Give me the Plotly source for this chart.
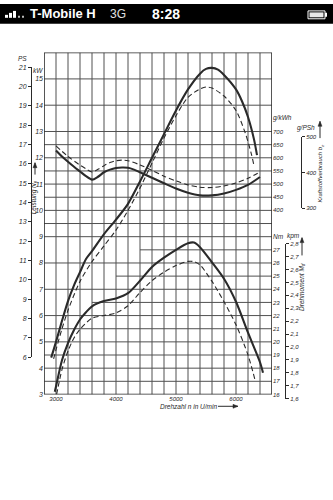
import plotly.graph_objects as go

W, H = 333, 500

# ---------------- data ----------------
# engine speed grid and tick labels
rpm_ticks = [3000, 4000, 5000, 6000]
rpm_grid = list(range(2800, 6601, 200))

# power, kW (two curves)
rpm_power_a = [2920, 3000, 3100, 3200, 3300, 3400, 3500, 3600, 3800, 4000, 4200, 4400, 4600,
               4800, 5000, 5200, 5400, 5500, 5600, 5700, 5800, 6000, 6100, 6200, 6300, 6350]
power_kw_a = [4.4, 5.0, 5.8, 6.55, 7.15, 7.65, 8.15, 8.45, 9.1, 9.65, 10.25, 11.1, 12.0,
              12.9, 13.8, 14.6, 15.2, 15.38, 15.42, 15.35, 15.15, 14.6, 14.15, 13.55, 12.7, 12.1]
rpm_power_b = [2960, 3000, 3100, 3200, 3400, 3600, 3800, 4000, 4200, 4400, 4600, 4800, 5000,
               5200, 5400, 5500, 5600, 5800, 6000, 6150, 6250, 6300]
power_kw_b = [4.35, 4.7, 5.5, 6.2, 7.3, 8.05, 8.65, 9.25, 10.0, 10.85, 11.8, 12.75, 13.6,
              14.3, 14.62, 14.69, 14.65, 14.35, 13.8, 12.97, 12.2, 11.7]

# specific fuel consumption, g/kWh
rpm_fuel_a = [3000, 3100, 3200, 3300, 3400, 3500, 3600, 3700, 3800, 3900, 4000, 4100, 4200,
              4300, 4400, 4600, 4800, 5000, 5200, 5400, 5600, 5800, 6000, 6200, 6400]
fuel_gkwh_a = [628, 605, 585, 566, 548, 530, 517, 528, 545, 555, 561, 563, 562,
               555, 545, 524, 503, 483, 467, 457, 457, 464, 478, 497, 527]
rpm_fuel_b = [3000, 3200, 3400, 3500, 3600, 3700, 3800, 3900, 4000, 4100, 4200, 4400, 4600,
              4800, 5000, 5200, 5400, 5600, 5800, 6000, 6200, 6400]
fuel_gkwh_b = [645, 605, 572, 558, 546, 556, 570, 582, 589, 591, 589, 573, 552,
               530, 512, 497, 488, 487, 493, 504, 522, 546]

# torque, Nm
rpm_torque_a = [2980, 3000, 3100, 3200, 3300, 3400, 3500, 3600, 3800, 4000, 4200, 4400, 4600,
                4800, 5000, 5200, 5300, 5400, 5600, 5800, 6000, 6200, 6400, 6450]
torque_nm_a = [16.2, 16.6, 18.6, 19.9, 20.9, 21.7, 22.25, 22.7, 23.1, 23.3, 23.7, 24.65, 25.7,
               26.4, 27.0, 27.5, 27.55, 27.2, 26.05, 24.8, 23.05, 20.7, 18.45, 17.65]
rpm_torque_b = [3010, 3100, 3200, 3300, 3400, 3600, 3800, 4000, 4200, 4400, 4600, 4800, 5000,
                5200, 5300, 5400, 5600, 5800, 6000, 6200, 6320]
torque_nm_b = [16.0, 17.9, 19.3, 20.3, 20.95, 21.8, 22.0, 22.2, 22.75, 23.75, 24.65, 25.3, 25.8,
               26.12, 26.1, 25.85, 24.6, 23.05, 21.3, 19.0, 17.05]

# scale tick labels
kw_ticks = list(range(3, 16))
ps_ticks = list(range(6, 22))
gkwh_ticks = [400, 450, 500, 550, 600, 650, 700]
gpsh_ticks = [300, 400, 500]
nm_ticks = list(range(16, 28))
kpm_ticks = [1.6, 1.7, 1.8, 1.9, 2.0, 2.1, 2.2, 2.3, 2.4, 2.5, 2.6, 2.7, 2.8]
kpm_text = [f"{v:.1f}".replace(".", ",") for v in kpm_ticks]

# horizontal rulings on the kW scale; some lines start further right
hgrid_kw = [3.5, 4, 4.5, 5, 5.5, 6, 6.5, 7, 7.5, 8, 8.5, 9, 9.5, 10, 10.5, 11, 11.5,
            12, 12.5, 13, 14, 15]
hgrid_start = {6.5: 3600, 7.5: 4000, 8.5: 4400}

# ---------------- geometry ----------------
KW_RANGE = [3, 16]
RPM_RANGE = [2800, 6600]
X_DOM = [44 / W, 272 / W]
Y_DOM = [1 - 396 / H, 1 - 49.3 / H]

PS_KW = 0.7355          # 1 PS in kW
KPM_NM = 9.80665        # 1 kpm in Nm


def kw_paper(kw):
    return Y_DOM[0] + (kw - KW_RANGE[0]) / (KW_RANGE[1] - KW_RANGE[0]) * (Y_DOM[1] - Y_DOM[0])


def gkwh_on_kw(g):
    return 10 + (g - 400) / 100


def nm_on_kw(nm):
    return 3 + (nm - 16) * 0.5


def kw_to_gkwh(kw):
    return 400 + (kw - 10) * 100


def kw_to_nm(kw):
    return 16 + (kw - 3) * 2


def px(x, y):
    return x / W, 1 - y / H


INK = "#2a2a2a"
GRID = "#505050"
FONT = "Liberation Sans"
tick_font = dict(family=FONT, size=7, color=INK, style="italic")
small_tick_font = dict(tick_font, size=6)
label_font = dict(family=FONT, size=6.5, color=INK, style="italic")

fig = go.Figure()

curve_solid = dict(color=INK, width=2.1, shape="spline", smoothing=0.8)
curve_dash = dict(color=INK, width=1.1, dash="5px,3px", shape="spline", smoothing=0.8)

fig.add_trace(go.Scatter(x=rpm_power_a, y=power_kw_a, mode="lines", line=curve_solid,
                         yaxis="y", showlegend=False, hoverinfo="skip"))
fig.add_trace(go.Scatter(x=rpm_power_b, y=power_kw_b, mode="lines", line=curve_dash,
                         yaxis="y", showlegend=False, hoverinfo="skip"))
fig.add_trace(go.Scatter(x=rpm_fuel_a, y=fuel_gkwh_a, mode="lines", line=curve_solid,
                         yaxis="y2", showlegend=False, hoverinfo="skip"))
fig.add_trace(go.Scatter(x=rpm_fuel_b, y=fuel_gkwh_b, mode="lines", line=curve_dash,
                         yaxis="y2", showlegend=False, hoverinfo="skip"))
fig.add_trace(go.Scatter(x=rpm_torque_a, y=torque_nm_a, mode="lines", line=curve_solid,
                         yaxis="y3", showlegend=False, hoverinfo="skip"))
fig.add_trace(go.Scatter(x=rpm_torque_b, y=torque_nm_b, mode="lines", line=curve_dash,
                         yaxis="y3", showlegend=False, hoverinfo="skip"))
# empty traces so the detached unit scales are laid out
for ax in ["y4", "y5", "y6"]:
    fig.add_trace(go.Scatter(x=[None], y=[None], yaxis=ax, showlegend=False, hoverinfo="skip"))

shapes = []
# vertical rulings
for r in rpm_grid:
    shapes.append(dict(type="line", xref="x", yref="y", x0=r, x1=r, y0=KW_RANGE[0], y1=KW_RANGE[1],
                       line=dict(color=GRID, width=1), layer="below"))
# horizontal rulings
for k in hgrid_kw:
    shapes.append(dict(type="line", xref="x", yref="y", x0=hgrid_start.get(k, RPM_RANGE[0]),
                       x1=RPM_RANGE[1], y0=k, y1=k, line=dict(color=GRID, width=1), layer="below"))
# frame
shapes.append(dict(type="rect", xref="x", yref="y", x0=RPM_RANGE[0], x1=RPM_RANGE[1],
                   y0=KW_RANGE[0], y1=KW_RANGE[1], line=dict(color=INK, width=1.3), layer="below"))


def paper_rect(xa, ya, xb, yb, fill, line=None):
    a = px(xa, ya)
    b = px(xb, yb)
    shapes.append(dict(type="rect", xref="paper", yref="paper", x0=a[0], x1=b[0], y0=a[1], y1=b[1],
                       fillcolor=fill, line=line or dict(width=0)))


def arrow(x_tail, y_tail, x_head, y_head):
    """Thin pointer line with a filled head, in pixel positions."""
    a = px(x_tail, y_tail)
    b = px(x_head, y_head)
    shapes.append(dict(type="line", xref="paper", yref="paper", x0=a[0], y0=a[1], x1=b[0], y1=b[1],
                       line=dict(color=INK, width=1)))
    if x_head == x_tail:  # vertical, pointing up
        pts = [(x_head, y_head), (x_head - 2, y_head + 5), (x_head + 2, y_head + 5)]
    else:                 # horizontal, pointing right
        pts = [(x_head, y_head), (x_head - 5, y_head - 2), (x_head - 5, y_head + 2)]
    path = "M " + " L ".join(f"{px(p[0], p[1])[0]:.5f},{px(p[0], p[1])[1]:.5f}" for p in pts) + " Z"
    shapes.append(dict(type="path", xref="paper", yref="paper", path=path,
                       fillcolor=INK, line=dict(color=INK, width=0.5)))


# status bar
paper_rect(0, 20, W, 0, "black")
for i, hgt in enumerate([3, 5, 7]):
    bx = 5 + i * 4
    paper_rect(bx, 14, bx + 3, 14 - hgt, "white")
for bx in [18, 22]:
    paper_rect(bx, 14, bx + 2, 12, "#bbbbbb")
paper_rect(308, 15, 325, 7, "black", dict(color="white", width=1))
paper_rect(309.5, 13.5, 323.5, 8.5, "#e8e8e8")
paper_rect(325, 13, 327, 9, "white")

arrow(35, 173, 35, 161)
arrow(320, 136, 320, 119)
arrow(302, 255, 302, 237)
arrow(218, 408, 238, 408)

annotations = []


def note(text, x, y, font=label_font, angle=0, xanchor="center"):
    p = px(x, y)
    annotations.append(dict(text=text, x=p[0], y=p[1], xref="paper", yref="paper",
                            showarrow=False, font=font, textangle=angle, xanchor=xanchor,
                            yanchor="middle"))


note("PS", 22, 55)
note("kW", 38, 67)
note("g/kWh", 282, 116)
note("g/PSh", 306, 126)
note("Nm", 278, 236)
note("kpm", 293, 235)
note("Leistung N<sub>e</sub>", 34, 196, angle=-90)
note("Kraftstoffverbrauch b<sub>e</sub>", 321, 172, font=dict(label_font, size=6), angle=-90)
note("Drehmoment M<sub>d</sub>", 302, 287, angle=-90)
note("Drehzahl n in U/min", 188, 408)

status_font = dict(family=FONT, size=13, color="white", weight="bold")
note("T-Mobile H", 28, 10, font=status_font, xanchor="left")
note("3G", 108, 10, font=dict(family=FONT, size=12, color="#e0e0e0"), xanchor="left")
note("8:28", 166, 10, font=dict(family=FONT, size=14, color="white", weight="bold"))

base = dict(showgrid=False, zeroline=False, fixedrange=True)

fig.update_layout(
    width=W, height=H,
    margin=dict(l=0, r=0, t=0, b=0),
    paper_bgcolor="white",
    plot_bgcolor="rgba(0,0,0,0)",
    showlegend=False,
    shapes=shapes,
    annotations=annotations,
    xaxis=dict(domain=X_DOM, range=RPM_RANGE, anchor="y", tickvals=rpm_ticks,
               ticktext=[str(v) for v in rpm_ticks], ticks="", showline=False,
               tickfont=small_tick_font, **base),
    yaxis=dict(domain=Y_DOM, range=KW_RANGE, anchor="x", tickvals=kw_ticks, ticks="",
               showline=False, tickfont=tick_font, **base),
    yaxis2=dict(overlaying="y", side="right", anchor="x",
                range=[kw_to_gkwh(KW_RANGE[0]), kw_to_gkwh(KW_RANGE[1])],
                tickvals=gkwh_ticks, ticks="", showline=False, tickfont=small_tick_font, **base),
    yaxis3=dict(overlaying="y", side="right", anchor="x",
                range=[kw_to_nm(KW_RANGE[0]), kw_to_nm(KW_RANGE[1])],
                tickvals=nm_ticks, ticks="", showline=False, tickfont=small_tick_font, **base),
    yaxis4=dict(anchor="free", position=31 / W, side="left",
                domain=[kw_paper(ps_ticks[0] * PS_KW), kw_paper(ps_ticks[-1] * PS_KW)],
                range=[ps_ticks[0], ps_ticks[-1]], tickvals=ps_ticks, ticks="outside", ticklen=3,
                tickcolor=INK, showline=True, linecolor=INK, linewidth=1,
                tickfont=tick_font, **base),
    yaxis5=dict(anchor="free", position=285 / W, side="right",
                domain=[kw_paper(nm_on_kw(kpm_ticks[0] * KPM_NM)),
                        kw_paper(nm_on_kw(kpm_ticks[-1] * KPM_NM))],
                range=[kpm_ticks[0], kpm_ticks[-1]], tickvals=kpm_ticks, ticktext=kpm_text,
                ticks="outside", ticklen=3, tickcolor=INK, showline=True, linecolor=INK,
                linewidth=1, tickfont=small_tick_font, **base),
    yaxis6=dict(anchor="free", position=301 / W, side="right",
                domain=[kw_paper(gkwh_on_kw(gpsh_ticks[0] / PS_KW)),
                        kw_paper(gkwh_on_kw(gpsh_ticks[-1] / PS_KW))],
                range=[gpsh_ticks[0], gpsh_ticks[-1]], tickvals=gpsh_ticks,
                ticks="outside", ticklen=3, tickcolor=INK, showline=True, linecolor=INK,
                linewidth=1, tickfont=small_tick_font, **base),
)

fig.write_html("out.html")
